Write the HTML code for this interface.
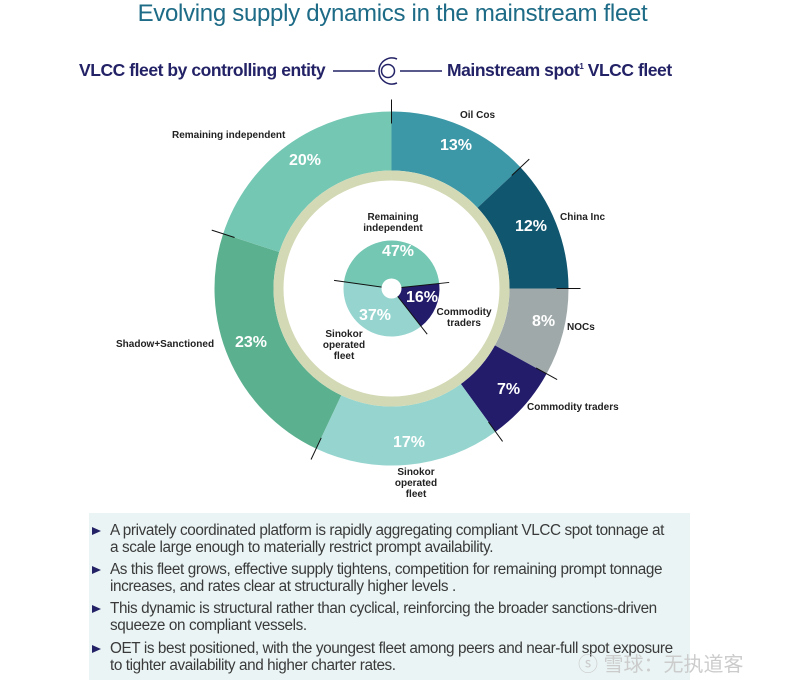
<!DOCTYPE html>
<html><head><meta charset="utf-8"><style>
body{margin:0;width:785px;height:685px;background:#fff;font-family:"Liberation Sans",sans-serif;overflow:hidden;position:relative}
.t{position:absolute;white-space:nowrap}
.box{position:absolute;left:89px;top:513px;width:601px;height:167px;background:#eaf4f4}
.li{position:absolute;left:110px;font-size:15.3px;color:#3a3a3a;line-height:16.5px;letter-spacing:-0.4px}
.li:before{content:"";position:absolute;left:-18px;top:4px;border-left:9px solid #232266;border-top:4.5px solid transparent;border-bottom:4.5px solid transparent}
</style></head><body>
<div class="t" style="left:0;width:785px;text-align:center;top:0px;font-size:24px;color:#1d6b86;letter-spacing:-0.3px">Evolving supply dynamics in the mainstream fleet</div>
<div class="t" style="left:79px;top:60px;font-size:17.5px;font-weight:bold;color:#232266;letter-spacing:-0.45px">VLCC fleet by controlling entity</div>
<div class="t" style="left:447px;top:60px;font-size:17.5px;font-weight:bold;color:#232266;letter-spacing:-0.45px">Mainstream spot<sup style="font-size:8px">1</sup> VLCC fleet</div>
<svg width="785" height="685" style="position:absolute;left:0;top:0">
<g stroke="#232266" stroke-width="1.5" fill="none">
<line x1="333" y1="71" x2="375" y2="71"/><line x1="400" y1="71" x2="442" y2="71"/>
<path d="M 397 59 A 13 13 0 1 0 397 83"/><circle cx="388" cy="71" r="6.5"/>
</g>
<g id="g"></g>
</svg>
<div class="box"></div>
<div class="li" style="top:523px">A privately coordinated platform is rapidly aggregating compliant VLCC spot tonnage at<br>a scale large enough to materially restrict prompt availability.</div>
<div class="li" style="top:562px">As this fleet grows, effective supply tightens, competition for remaining prompt tonnage<br>increases, and rates clear at structurally higher levels .</div>
<div class="li" style="top:601px">This dynamic is structural rather than cyclical, reinforcing the broader sanctions-driven<br>squeeze on compliant vessels.</div>
<div class="li" style="top:641px">OET is best positioned, with the youngest fleet among peers and near-full spot exposure<br>to tighter availability and higher charter rates.</div>
<script>
var cx=391.5,cy=288.5,ns="http://www.w3.org/2000/svg",g=document.getElementById('g');
function P(r,a){a=(a-90)*Math.PI/180;return [cx+r*Math.cos(a),cy+r*Math.sin(a)];}
function seg(r0,r1,a0,a1,c){var p=document.createElementNS(ns,'path'),l=a1-a0>180?1:0,A=P(r1,a0),B=P(r1,a1),C=P(r0,a1),D=P(r0,a0);
p.setAttribute('d','M'+A+'A'+r1+' '+r1+' 0 '+l+' 1 '+B+'L'+C+(r0>0?'A'+r0+' '+r0+' 0 '+l+' 0 '+D:'')+'Z');p.setAttribute('fill',c);g.appendChild(p);}
function tick(r0,r1,a){var p=document.createElementNS(ns,'line'),A=P(r0,a),B=P(r1,a);p.setAttribute('x1',A[0]);p.setAttribute('y1',A[1]);p.setAttribute('x2',B[0]);p.setAttribute('y2',B[1]);p.setAttribute('stroke','#111');p.setAttribute('stroke-width','1');g.appendChild(p);}
var o=[[13,'#3c97a6'],[12,'#11566f'],[8,'#a0a9aa'],[7,'#231c6b'],[17,'#96d5cf'],[23,'#5bb08f'],[20,'#74c7b3']],a=0;
o.forEach(function(s){var b=a+s[0]*3.6;seg(118,177,a,b,s[1]);a=b;});
a=0;o.forEach(function(s){tick(165,189,a);a+=s[0]*3.6;});
seg(108,118,0,359.99,'#d2d9b4');
seg(0,48,278,444,'#74c7b3');seg(0,48,84,142,'#231c6b');seg(0,48,142,278,'#96d5cf');
tick(0,58,84);tick(0,58,142);tick(0,58,278);
var c=document.createElementNS(ns,'circle');c.setAttribute('cx',cx);c.setAttribute('cy',cy);c.setAttribute('r',10);c.setAttribute('fill','#fff');g.appendChild(c);
</script>
<div style="font-weight:bold">
<div class="t" style="left:460px;top:110px;font-size:10px;color:#222">Oil Cos</div>
<div class="t" style="left:560px;top:212px;font-size:10px;color:#222">China Inc</div>
<div class="t" style="left:567px;top:322px;font-size:10px;color:#222">NOCs</div>
<div class="t" style="left:527px;top:402px;font-size:10px;color:#222">Commodity traders</div>
<div class="t" style="left:116px;top:339px;font-size:10px;color:#222">Shadow+Sanctioned</div>
<div class="t" style="left:172px;top:130px;font-size:10px;color:#222">Remaining independent</div>
<div class="t" style="left:380px;top:467px;width:72px;text-align:center;font-size:10px;color:#222;line-height:11px">Sinokor<br>operated<br>fleet</div>
<div class="t" style="left:355px;top:212px;width:76px;text-align:center;font-size:10px;color:#222;line-height:11px">Remaining<br>independent</div>
<div class="t" style="left:434px;top:307px;width:60px;text-align:center;font-size:10px;color:#222;line-height:11px">Commodity<br>traders</div>
<div class="t" style="left:314px;top:329px;width:60px;text-align:center;font-size:10px;color:#222;line-height:11px">Sinokor<br>operated<br>fleet</div>
<div class="t" style="left:440px;top:137px;font-size:16px;color:#fff">13%</div>
<div class="t" style="left:515px;top:218px;font-size:16px;color:#fff">12%</div>
<div class="t" style="left:532px;top:313px;font-size:16px;color:#fff">8%</div>
<div class="t" style="left:497px;top:381px;font-size:16px;color:#fff">7%</div>
<div class="t" style="left:393px;top:434px;font-size:16px;color:#fff">17%</div>
<div class="t" style="left:235px;top:334px;font-size:16px;color:#fff">23%</div>
<div class="t" style="left:289px;top:152px;font-size:16px;color:#fff">20%</div>
<div class="t" style="left:382px;top:243px;font-size:16px;color:#fff">47%</div>
<div class="t" style="left:406px;top:289px;font-size:16px;color:#fff">16%</div>
<div class="t" style="left:359px;top:307px;font-size:16px;color:#fff">37%</div>
</div>
<div class="t" style="left:578px;top:648px;font-size:20px;color:#ccc;font-family:'Liberation Sans','Noto Sans CJK SC',sans-serif">ⓢ 雪球：无执道客</div>
</body></html>
